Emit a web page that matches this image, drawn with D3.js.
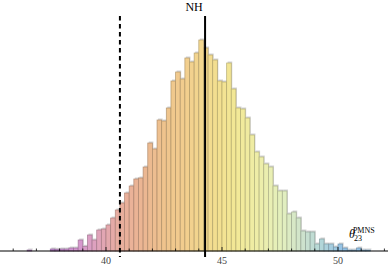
<!DOCTYPE html>
<html>
<head>
<meta charset="utf-8">
<script src="https://cdn.jsdelivr.net/npm/d3@7"></script>
<style>
  body { margin: 0; background: #fff; }
  svg text { font-family: "Liberation Serif", "DejaVu Serif", serif; }
</style>
</head>
<body>
<svg width="390" height="268"></svg>
<script>
// histogram of theta23 (degrees), bin width 0.2
var binStart = 36.6, binWidth = 0.2;
var counts = [1, 0, 0, 0, 0, 2, 1.7, 2, 2, 3, 3, 11, 4.7, 16, 11, 21, 22, 26, 33, 41,
  48, 58, 65, 72, 73, 84, 108, 102, 131, 130, 143, 170, 179, 172, 193, 189, 198, 211, 203, 196,
  191, 170, 169, 188, 162, 143, 142, 133, 116, 99, 94, 87, 84, 65, 60, 60, 37, 39, 33, 20,
  19, 19, 7, 12, 7, 7, 4, 7, 3, 1, 1, 3, 1, 1];
var xTicks = [40, 45, 50];
var dashedAt = 40.6, nhAt = 44.27;

var svg = d3.select("svg"),
    width = +svg.attr("width"),
    height = +svg.attr("height");

var x = d3.scaleLinear().domain([40, 50]).range([106, 338]);
var y = d3.scaleLinear().domain([0, 211]).range([251, 40]);

var colour = d3.scaleLinear()
  .domain([37.6, 38.8, 39.6, 40.6, 41.6, 42.6, 43.6, 44.6, 45.6, 46.6, 47.6, 48.4, 49.2, 50.2])
  .range(["#c08ad2", "#d596cf", "#dfa3bd", "#e8ad9d", "#ebb692", "#efc48d", "#f2d08e", "#f3dd8f",
          "#f2e896", "#eeeea9", "#e3efbe", "#d0e4cb", "#b6d8d8", "#93c2e6"])
  .clamp(true);

var bins = counts.map(function(c, i) { return { x0: binStart + i * binWidth, n: c }; })
  .filter(function(d) { return d.n > 0; });

// light grey shadow behind each bar
svg.append("g").selectAll("rect")
  .data(bins).enter().append("rect")
  .attr("x", function(d) { return x(d.x0) + 1; })
  .attr("y", function(d) { return y(d.n) - 1.5; })
  .attr("width", function(d) { return x(d.x0 + binWidth) - x(d.x0); })
  .attr("height", function(d) { return y(0) - y(d.n); })
  .attr("fill", "#d4d4d4");

svg.append("g").selectAll("rect")
  .data(bins).enter().append("rect")
  .attr("x", function(d) { return x(d.x0); })
  .attr("y", function(d) { return y(d.n); })
  .attr("width", function(d) { return x(d.x0 + binWidth) - x(d.x0); })
  .attr("height", function(d) { return y(0) - y(d.n); })
  .attr("fill", function(d) { return colour(d.x0 + binWidth / 2); })
  .attr("stroke", function(d) { return d3.color(colour(d.x0 + binWidth / 2)).darker(0.9); })
  .attr("stroke-width", 0.8)
  .attr("stroke-opacity", 0.8);

// bottom axis, ticks pointing up
var axis = svg.append("g").attr("transform", "translate(0," + y(0) + ")");
axis.append("line")
  .attr("x1", 0).attr("x2", 388)
  .attr("stroke", "black").attr("stroke-width", 1);
axis.selectAll(".minor")
  .data(d3.range(36, 53)).enter().append("line")
  .attr("x1", function(d) { return x(d); })
  .attr("x2", function(d) { return x(d); })
  .attr("y1", 0)
  .attr("y2", function(d) { return xTicks.indexOf(d) >= 0 ? -4 : -2.5; })
  .attr("stroke", "black").attr("stroke-width", 0.8);
axis.selectAll(".lbl")
  .data(xTicks).enter().append("text")
  .attr("x", function(d) { return x(d); })
  .attr("y", 13)
  .attr("text-anchor", "middle")
  .attr("font-size", 10)
  .attr("fill", "#444")
  .text(function(d) { return d; });

// reference lines
svg.append("line")
  .attr("x1", x(dashedAt)).attr("x2", x(dashedAt))
  .attr("y1", 16).attr("y2", 257)
  .attr("stroke", "black").attr("stroke-width", 2)
  .attr("stroke-dasharray", "4.5,3.5");
svg.append("line")
  .attr("x1", x(nhAt)).attr("x2", x(nhAt))
  .attr("y1", 16).attr("y2", 257)
  .attr("stroke", "black").attr("stroke-width", 2);

svg.append("text")
  .attr("x", x(nhAt) - 11).attr("y", 11)
  .attr("text-anchor", "middle")
  .attr("font-size", 12)
  .text("NH");

// axis label
var lab = svg.append("text").attr("x", 349).attr("y", 238).attr("font-size", 12);
lab.append("tspan").attr("font-style", "italic").text("θ");
lab.append("tspan").attr("font-size", 8).attr("dx", -1).attr("dy", 3).text("23");
lab.append("tspan").attr("font-size", 8).attr("dx", -9).attr("dy", -8).text("PMNS");
</script>
</body>
</html>
